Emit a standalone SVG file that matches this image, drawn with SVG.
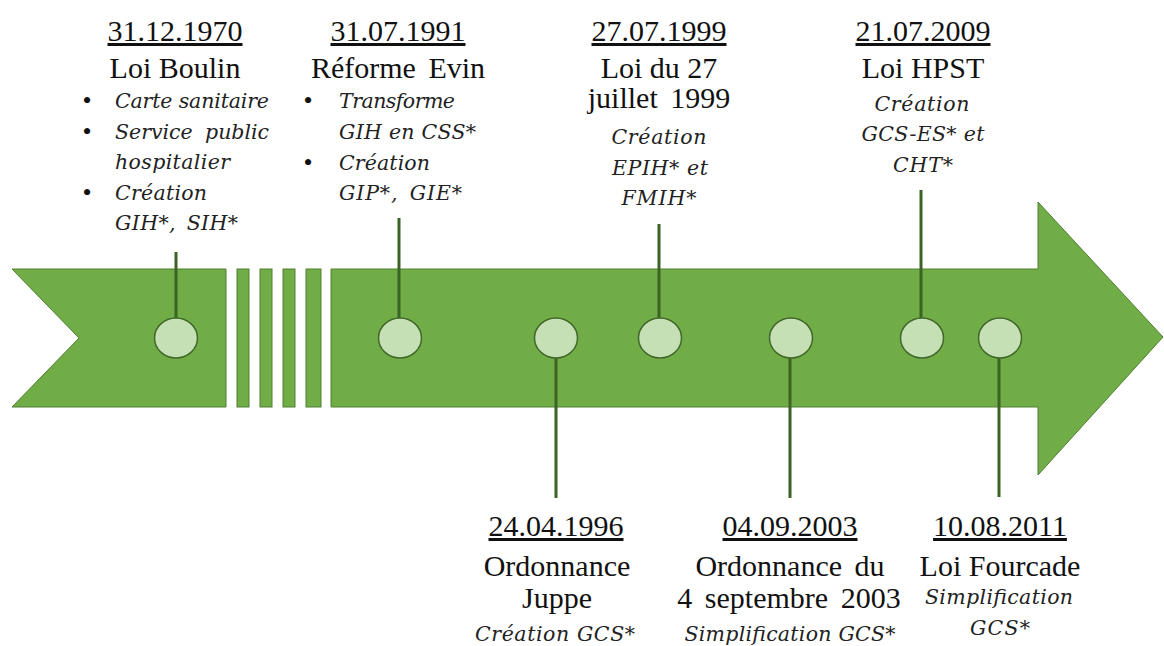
<svg xmlns="http://www.w3.org/2000/svg" width="1164" height="646" viewBox="0 0 1164 646">
<style>
.band{fill:#70AD47;stroke:#507E32;stroke-width:1}
.dot{fill:#C5E0B4;stroke:#41672A;stroke-width:1.5}
.conn{stroke:#3B6325;stroke-width:3;fill:none}
.date{font-family:"Liberation Serif","Times New Roman",serif;font-size:30px;fill:#111;text-anchor:middle;text-decoration:underline}
.title{font-family:"Liberation Serif","Times New Roman",serif;font-size:30px;fill:#111;text-anchor:middle}
.it{font-family:"DejaVu Serif",serif;font-style:italic;font-size:20.5px;fill:#222}
.itc{font-family:"DejaVu Serif",serif;font-style:italic;font-size:20.5px;fill:#222;text-anchor:middle}
.bul{font-family:"Liberation Serif",serif;font-size:26px;fill:#111;text-anchor:middle}
</style>
<g id="band">
<path class="band" d="M12,269 L226,269 L226,407 L12,407 L79,338 Z"/>
<rect class="band" x="237" y="269" width="12" height="138"/>
<rect class="band" x="260" y="269" width="12" height="138"/>
<rect class="band" x="283" y="269" width="12" height="138"/>
<rect class="band" x="306" y="269" width="15" height="138"/>
<path class="band" d="M331,269 L1038,269 L1038,202 L1163,337 L1038,475 L1038,407 L331,407 Z"/>
</g>
<g id="connectors">
<line class="conn" x1="176" y1="252" x2="176" y2="318"/>
<line class="conn" x1="399" y1="218" x2="399" y2="318"/>
<line class="conn" x1="659" y1="224" x2="659" y2="318"/>
<line class="conn" x1="921" y1="190" x2="921" y2="318"/>
<line class="conn" x1="556" y1="358" x2="556" y2="498"/>
<line class="conn" x1="790" y1="358" x2="790" y2="498"/>
<line class="conn" x1="999" y1="358" x2="999" y2="497"/>
</g>
<g id="e1970">
<ellipse class="dot" cx="176" cy="338" rx="21.5" ry="20"/>
<text class="date" x="175" y="41">31.12.1970</text>
<text class="title" x="175" y="78">Loi Boulin</text>
<text class="bul" x="87" y="109">•</text>
<text class="bul" x="87" y="140">•</text>
<text class="bul" x="87" y="201">•</text>
<text class="it" x="115" y="108" textLength="154" lengthAdjust="spacing">Carte sanitaire</text>
<text class="it" x="115" y="139" textLength="154" lengthAdjust="spacing" word-spacing="6">Service public</text>
<text class="it" x="115" y="169" textLength="115" lengthAdjust="spacing">hospitalier</text>
<text class="it" x="115" y="200" textLength="92" lengthAdjust="spacing">Création</text>
<text class="it" x="115" y="230" textLength="123" lengthAdjust="spacing" word-spacing="4">GIH*, SIH*</text>
</g>
<g id="e1991">
<ellipse class="dot" cx="400" cy="338" rx="21.5" ry="20"/>
<text class="date" x="398" y="41">31.07.1991</text>
<text class="title" x="398" y="78" word-spacing="5">Réforme Evin</text>
<text class="bul" x="308" y="109">•</text>
<text class="bul" x="308" y="171">•</text>
<text class="it" x="339" y="108" textLength="116" lengthAdjust="spacing">Transforme</text>
<text class="it" x="339" y="139" textLength="137" lengthAdjust="spacing">GIH en CSS*</text>
<text class="it" x="339" y="170" textLength="91" lengthAdjust="spacing">Création</text>
<text class="it" x="339" y="200" textLength="123" lengthAdjust="spacing" word-spacing="4">GIP*, GIE*</text>
</g>
<g id="e1996">
<ellipse class="dot" cx="556" cy="338" rx="21.5" ry="20"/>
<text class="date" x="556" y="536">24.04.1996</text>
<text class="title" x="557" y="576">Ordonnance</text>
<text class="title" x="557" y="608">Juppe</text>
<text class="itc" x="555" y="641" textLength="160" lengthAdjust="spacing">Création GCS*</text>
</g>
<g id="e1999">
<ellipse class="dot" cx="660" cy="338" rx="21.5" ry="20"/>
<text class="date" x="659" y="41">27.07.1999</text>
<text class="title" x="659" y="78">Loi du 27</text>
<text class="title" x="659" y="108" word-spacing="5">juillet 1999</text>
<text class="itc" x="659" y="144" textLength="95" lengthAdjust="spacing">Création</text>
<text class="itc" x="660" y="175" textLength="96" lengthAdjust="spacing">EPIH* et</text>
<text class="itc" x="659" y="205" textLength="75" lengthAdjust="spacing">FMIH*</text>
</g>
<g id="e2003">
<ellipse class="dot" cx="791" cy="338" rx="21.5" ry="20"/>
<text class="date" x="790" y="536">04.09.2003</text>
<text class="title" x="790" y="576" word-spacing="5">Ordonnance du</text>
<text class="title" x="789" y="608" word-spacing="5">4 septembre 2003</text>
<text class="itc" x="790" y="641" textLength="211" lengthAdjust="spacing">Simplification GCS*</text>
</g>
<g id="e2009">
<ellipse class="dot" cx="922" cy="338" rx="21.5" ry="20"/>
<text class="date" x="923" y="41">21.07.2009</text>
<text class="title" x="923" y="78">Loi HPST</text>
<text class="itc" x="922" y="111" textLength="95" lengthAdjust="spacing">Création</text>
<text class="itc" x="923" y="141" textLength="123" lengthAdjust="spacing">GCS-ES* et</text>
<text class="itc" x="923" y="172" textLength="60" lengthAdjust="spacing">CHT*</text>
</g>
<g id="e2011">
<ellipse class="dot" cx="1000" cy="338" rx="21.5" ry="20"/>
<text class="date" x="1000" y="536">10.08.2011</text>
<text class="title" x="1000" y="576">Loi Fourcade</text>
<text class="itc" x="999" y="604" textLength="148" lengthAdjust="spacing">Simplification</text>
<text class="itc" x="1000" y="635" textLength="60" lengthAdjust="spacing">GCS*</text>
</g>
</svg>
